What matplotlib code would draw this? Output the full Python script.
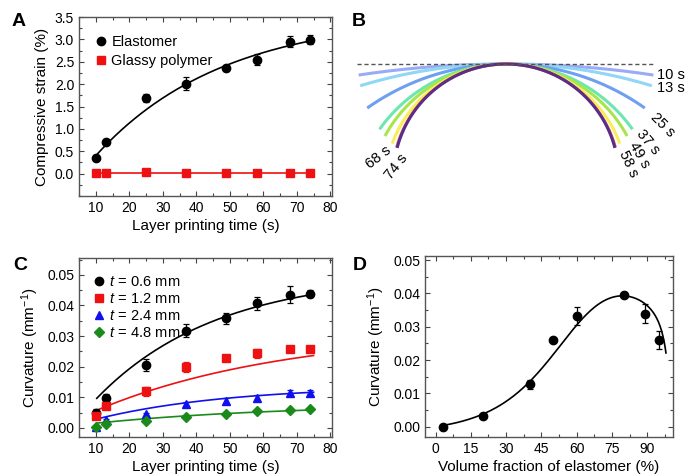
import numpy as np
import matplotlib
matplotlib.use('Agg')
import matplotlib.pyplot as plt
from matplotlib.lines import Line2D
from matplotlib.ticker import MultipleLocator, FormatStrFormatter, FixedLocator

plt.rcParams['font.family'] = ['Liberation Sans', 'DejaVu Sans']
plt.rcParams['mathtext.fontset'] = 'custom'
plt.rcParams['mathtext.rm'] = 'Liberation Sans'
plt.rcParams['mathtext.it'] = 'Liberation Sans:italic'
plt.rcParams['font.size'] = 10

# --- panel A: compressive strain vs layer printing time
time_s = [10, 13, 25, 37, 49, 58, 68, 74]
strain_elast = [0.36, 0.70, 1.69, 2.01, 2.35, 2.55, 2.95, 2.99]
strain_elast_err = [0.05, 0.04, 0.08, 0.15, 0.06, 0.13, 0.12, 0.10]
strain_glassy = [0.02, 0.02, 0.04, 0.01, 0.02, 0.02, 0.02, 0.02]
# saturating fit y = a - (a - y0) * exp(-(x - 10) / b) -> (a, y0, b)
fit_elast = (3.55, 0.40, 38.0)

# --- panel C: curvature vs layer printing time for 4 thicknesses
thick_labels = [r'$t\,=\,$0.6 mm', r'$t\,=\,$1.2 mm', r'$t\,=\,$2.4 mm', r'$t\,=\,$4.8 mm']
curv_06 = [0.0050, 0.0099, 0.0205, 0.0318, 0.0358, 0.0407, 0.0435, 0.0438]
curv_06_err = [0.0012, 0.0010, 0.0020, 0.0020, 0.0018, 0.0022, 0.0028, 0.0012]
curv_12 = [0.0039, 0.0072, 0.0120, 0.0199, 0.0228, 0.0243, 0.0258, 0.0257]
curv_12_err = [0.0007, 0.0006, 0.0015, 0.0015, 0.0010, 0.0015, 0.0007, 0.0010]
curv_24 = [0.0003, 0.0025, 0.0045, 0.0077, 0.0089, 0.0099, 0.0115, 0.0115]
curv_24_err = [0.0003, 0.0003, 0.0005, 0.0008, 0.0008, 0.0008, 0.0008, 0.0007]
curv_48 = [0.0004, 0.0013, 0.0022, 0.0035, 0.0046, 0.0054, 0.0059, 0.0062]
curv_48_err = [0.0003, 0.0003, 0.0004, 0.0004, 0.0004, 0.0004, 0.0004, 0.0004]
fit_06 = (0.0504, 0.0093, 36.0)
fit_12 = (0.0321, 0.0056, 57.0)
fit_24 = (0.0138, 0.0028, 40.0)
fit_48 = (0.0079, 0.0015, 57.0)

# --- panel B: bent strips (t = 0.6 mm), strip length 60 mm
arc_times = ['10 s', '13 s', '25 s', '37 s', '49 s', '58 s', '68 s', '74 s']
arc_colors = ['#9aabf5', '#8fd6f7', '#6f9ff0', '#6ee6b0',
              '#a6e64a', '#f7ee5a', '#f06a45', '#5a2d8c']
strip_len = 60.0

# --- panel D: curvature vs volume fraction of elastomer
vol_frac = [3, 20, 40, 50, 60, 80, 89, 95]
curv_vol = [0.0000, 0.0031, 0.0127, 0.0259, 0.0333, 0.0395, 0.0339, 0.0259]
curv_vol_err = [0.0003, 0.0005, 0.0013, 0.0005, 0.0027, 0.0005, 0.0029, 0.0027]
# bilayer (Timoshenko) model: modulus ratio, curvature scale
modulus_ratio = 15.0
curv_scale = 0.157


def sat_fit(x, a, y0, b):
    return a - (a - y0) * np.exp(-(x - 10.0) / b)


def bilayer(phi):
    m = (1 - phi) / phi
    mn = m * modulus_ratio
    f = (1 + m) ** 2 / (3 * (1 + m) ** 2 + (1 + mn) * (m ** 2 + 1 / mn))
    return curv_scale * f


def style_axes(ax):
    ax.tick_params(which='both', direction='in', top=True, right=True,
                   labelsize=10, color='#444444')
    ax.tick_params(which='major', length=3.5, width=0.8)
    ax.tick_params(which='minor', length=2, width=0.8)
    for sp in ax.spines.values():
        sp.set_color('#555555')
        sp.set_linewidth(1.0)


def marker_handle(mk, col, ms):
    return Line2D([], [], ls='none', marker=mk, color=col, ms=ms)


W, H = 685, 475
fig = plt.figure(figsize=(6.85, 4.75), dpi=100)


def px_axes(x0, y0, x1, y1):
    return fig.add_axes([x0 / W, 1 - y1 / H, (x1 - x0) / W, (y1 - y0) / H])


# ---------------- A
ax = px_axes(79, 17, 332, 196)
ax.errorbar(time_s, strain_elast, yerr=strain_elast_err, fmt='o', color='black',
            ms=6, capsize=2.5, elinewidth=0.9, capthick=0.9, zorder=3)
ax.plot(time_s, strain_glassy, 's', color='#ee1111', ms=5.5, zorder=3)
xx = np.linspace(10, 74, 200)
ax.plot(xx, sat_fit(xx, *fit_elast), color='black', lw=1.2)
ax.plot([10, 74], [np.mean(strain_glassy)] * 2, color='#ee1111', lw=1.2)
ax.set_xlim(5, 80.5)
ax.set_ylim(-0.5, 3.5)
ax.xaxis.set_major_locator(MultipleLocator(10))
ax.xaxis.set_minor_locator(MultipleLocator(5))
ax.yaxis.set_major_locator(FixedLocator(np.arange(0, 3.51, 0.5)))
ax.yaxis.set_minor_locator(MultipleLocator(0.25))
ax.yaxis.set_major_formatter(FormatStrFormatter('%.1f'))
ax.set_xlabel('Layer printing time (s)', fontsize=11, labelpad=3)
ax.set_ylabel('Compressive strain (%)', fontsize=11, labelpad=4)
ax.legend([marker_handle('o', 'black', 6), marker_handle('s', '#ee1111', 5.5)],
          ['Elastomer', 'Glassy polymer'], loc='upper left', frameon=False,
          fontsize=10.5, handletextpad=0.1, borderaxespad=0.0, handlelength=1.2,
          labelspacing=0.35, bbox_to_anchor=(0.03, 0.93))
style_axes(ax)

# ---------------- C
ax = px_axes(79, 258, 332, 437)
series = [(curv_06, curv_06_err, fit_06, 'o', 'black', 6),
          (curv_12, curv_12_err, fit_12, 's', '#ee1111', 5.5),
          (curv_24, curv_24_err, fit_24, '^', '#1010ee', 6),
          (curv_48, curv_48_err, fit_48, 'D', '#1a8a1a', 5)]
xx = np.linspace(10.3, 75, 200)
handles = []
for vals, errs, fit, mk, col, ms in series:
    ax.errorbar(time_s, vals, yerr=errs, fmt=mk, color=col, ms=ms, capsize=2.5,
                elinewidth=0.9, capthick=0.9, zorder=3)
    ax.plot(xx, sat_fit(xx, *fit), color=col, lw=1.2)
    handles.append(marker_handle(mk, col, ms))
ax.set_xlim(5, 80.5)
ax.set_ylim(-0.003, 0.0555)
ax.xaxis.set_major_locator(MultipleLocator(10))
ax.xaxis.set_minor_locator(MultipleLocator(5))
ax.yaxis.set_major_locator(MultipleLocator(0.01))
ax.yaxis.set_minor_locator(MultipleLocator(0.005))
ax.yaxis.set_major_formatter(FormatStrFormatter('%.2f'))
ax.set_xlabel('Layer printing time (s)', fontsize=11, labelpad=3)
ax.set_ylabel(r'Curvature (mm$^{-1}$)', fontsize=11, labelpad=4)
ax.legend(handles, thick_labels, loc='upper left', frameon=False, fontsize=10.5,
          handletextpad=0.1, borderaxespad=0.0, handlelength=1.2, labelspacing=0.2,
          bbox_to_anchor=(0.02, 0.935))
style_axes(ax)

# ---------------- D
ax = px_axes(425, 256, 673, 437)
ax.errorbar(vol_frac, curv_vol, yerr=curv_vol_err, fmt='o', color='black', ms=6,
            capsize=2.5, elinewidth=0.9, capthick=0.9, zorder=3)
pp = np.linspace(3, 98, 300)
ax.plot(pp, bilayer(pp / 100.0), color='black', lw=1.2)
ax.set_xlim(-4.5, 101)
ax.set_ylim(-0.0031, 0.0512)
ax.xaxis.set_major_locator(MultipleLocator(15))
ax.xaxis.set_minor_locator(MultipleLocator(7.5))
ax.yaxis.set_major_locator(MultipleLocator(0.01))
ax.yaxis.set_minor_locator(MultipleLocator(0.005))
ax.yaxis.set_major_formatter(FormatStrFormatter('%.2f'))
ax.set_xlabel('Volume fraction of elastomer (%)', fontsize=11, labelpad=3)
ax.set_ylabel(r'Curvature (mm$^{-1}$)', fontsize=11, labelpad=4)
style_axes(ax)

# ---------------- B
ax = px_axes(346, 30, 686, 230)
ax.set_xlim(-32.45, 36.5)
ax.set_ylim(-33.7, 6.9)
ax.axis('off')
ax.plot([-30.2, 30.2], [0, 0], color='#555555', lw=1.0, ls=(0, (3, 2)), zorder=5)
s = np.linspace(-strip_len / 2, strip_len / 2, 300)
for k, col in zip(curv_06, arc_colors):
    ax.plot(np.sin(k * s) / k, -(1 - np.cos(k * s)) / k, color=col, lw=2.2,
            solid_capstyle='butt')

# arc labels: (x px, y px, rotation, ha)
arc_label_pos = [(657, 75, 0, 'left'), (657, 88, 0, 'left'),
                 (663, 125, -45, 'center'), (648, 142, -50, 'center'),
                 (639, 155, -60, 'center'), (628, 164, -65, 'center'),
                 (378, 157, 38, 'center'), (396, 167, 52, 'center')]
for lab, (x, y, rot, ha) in zip(arc_times, arc_label_pos):
    fig.text(x / W, 1 - y / H, lab, fontsize=10.5, rotation=rot, ha=ha, va='center',
             rotation_mode='anchor')

# panel letters
for lab, x, y in [('A', 19, 22), ('B', 359, 22), ('C', 20, 265), ('D', 360, 265)]:
    fig.text(x / W, 1 - y / H, lab, fontsize=14, fontweight='bold', ha='center', va='center')

fig.savefig('out.png', dpi=100)
